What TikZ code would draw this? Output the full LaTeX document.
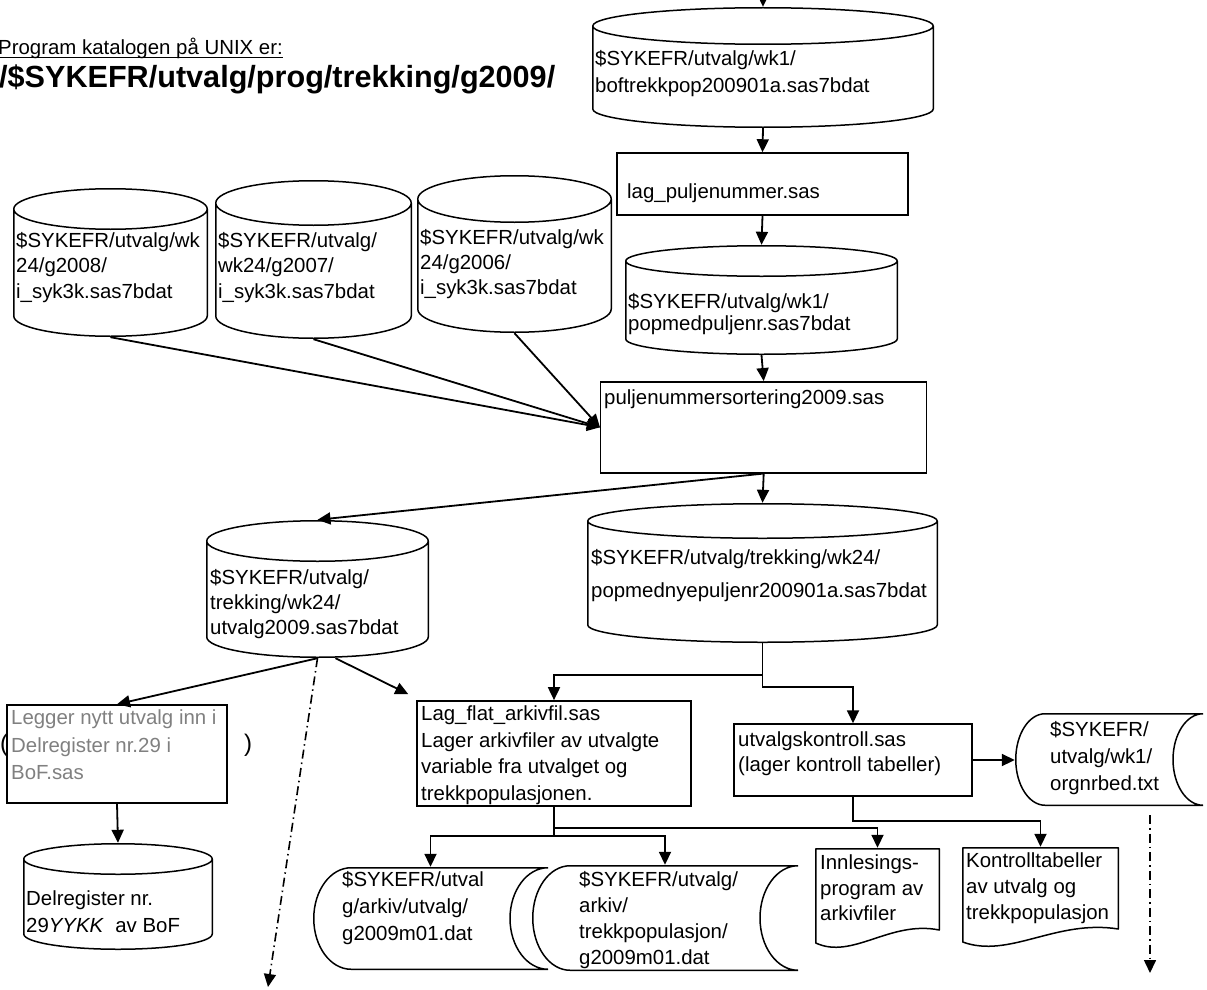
\documentclass[tikz,border=0pt]{standalone}
\usepackage{fontspec}
\setmainfont{Liberation Sans}
\usetikzlibrary{arrows.meta,calc,positioning}

\tikzset{
  shapeline/.style={line width=1.5pt, line join=round},
  arr/.style={-{Triangle[length=13pt,width=12pt]}, line width=1.8pt},
  dashdot/.style={arr, line width=1.6pt, dash pattern=on 9pt off 4pt on 1.5pt off 4pt},
  txt/.style={align=left, anchor=north west, inner sep=0pt,
    font=\fontsize{20.4}{#1}\selectfont, execute at begin node=\strut},
  procbox/.style={draw, line width=1.5pt, fill=white, inner sep=0pt},
  % database drum, #1 = half height of the lid
  dbcyl/.style={rectangle, inner sep=0pt, fill=white, path picture={
      \draw[shapeline] let \p1=(path picture bounding box.north west),
          \p2=(path picture bounding box.south east),
          \n1={(\x2-\x1)/2-0.75pt}, \n2={#1} in
        ({\x1+0.75pt},{\y1-\n2}) arc[start angle=180, delta angle=-360, x radius=\n1, y radius={\n2-0.75pt}]
        -- ({\x1+0.75pt},{\y2+\n2}) arc[start angle=180, end angle=360, x radius=\n1, y radius={\n2-0.75pt}]
        -- ({\x2-0.75pt},{\y1-\n2});}},
  % stored data, #1 = bulge of the sides
  filestore/.style={rectangle, inner sep=0pt, fill=white, fill opacity=0, path picture={
      \draw[shapeline] let \p1=(path picture bounding box.north west),
          \p2=(path picture bounding box.south east),
          \n1={#1}, \n2={(\y1-\y2)/2-0.75pt} in
        ({\x1+\n1},{\y1-0.75pt}) -- ({\x2},{\y1-0.75pt})
        arc[start angle=90, end angle=270, x radius=\n1, y radius=\n2]
        -- ({\x1+\n1},{\y2+0.75pt})
        arc[start angle=270, end angle=90, x radius={\n1-0.75pt}, y radius=\n2] -- cycle;}},
  % printed document
  docshape/.style={rectangle, inner sep=0pt, fill=white, path picture={
      \draw[shapeline] let \p1=(path picture bounding box.north west),
          \p2=(path picture bounding box.south east),
          \n1={\x2-\x1} in
        ({\x1+0.75pt},{\y1-0.75pt}) -- ({\x2-0.75pt},{\y1-0.75pt})
        -- ({\x2-0.75pt},{\y2+20pt})
        .. controls ({\x1+0.6*\n1},{\y2+30pt}) and ({\x1+0.3*\n1},{\y2-10pt}) ..
        ({\x1+0.75pt},{\y2+7pt}) -- cycle;}},
}

\begin{document}
\begin{tikzpicture}[x=1pt,y=-1pt]
\useasboundingbox (0,0) rectangle (1207,990);

% heading
\node[anchor=base west, inner sep=0pt, font=\fontsize{20.4}{24}\selectfont] (progcap) at (-2,55) {Program katalogen på UNIX er:};
\draw[line width=1.2pt] ([yshift=-2.5pt]progcap.base west) -- ([yshift=-2.5pt]progcap.base east);
\node[anchor=base west, inner sep=0pt, font=\fontsize{30.6}{36}\selectfont\bfseries] (progdir) at (-1,87) {/\$SYKEFR/utvalg/prog/trekking/g2009/};

% main chain
\node[dbcyl=19pt, minimum width=342, minimum height=121] (bofpop) at (763,67.5) {};
\node[txt=27] (bofpop-t) at (595,50) {\$SYKEFR/utvalg/wk1/\\boftrekkpop200901a.sas7bdat};
\node[procbox, minimum width=291, minimum height=62] (lagnr) at (762.5,184) {};
\node[txt=26] (lagnr-t) at (627,180) {lag\_puljenummer.sas};
\node[dbcyl=16pt, minimum width=273, minimum height=110] (popnr) at (761.5,300) {};
\node[txt=22] (popnr-t) at (628,293) {\$SYKEFR/utvalg/wk1/\\popmedpuljenr.sas7bdat};
\node[procbox, minimum width=326, minimum height=91] (sortering) at (763.7,427.3) {};
\node[txt=26] (sortering-t) at (604,386) {puljenummersortering2009.sas};
\node[dbcyl=18pt, minimum width=351, minimum height=140] (nypop) at (762.5,573) {};
\node[txt=33] (nypop-t) at (591,549) {\$SYKEFR/utvalg/trekking/wk24/\\popmednyepuljenr200901a.sas7bdat};

% earlier years
\node[dbcyl=21pt, minimum width=195, minimum height=149] (g2008) at (110.5,262.5) {};
\node[txt=25.5] (g2008-t) at (16,232) {\$SYKEFR/utvalg/wk\\24/g2008/\\i\_syk3k.sas7bdat};
\node[dbcyl=23pt, minimum width=197, minimum height=159] (g2007) at (313.5,259.5) {};
\node[txt=25.5] (g2007-t) at (218,232) {\$SYKEFR/utvalg/\\wk24/g2007/\\i\_syk3k.sas7bdat};
\node[dbcyl=24pt, minimum width=195, minimum height=158] (g2006) at (514.5,254) {};
\node[txt=25] (g2006-t) at (420,229.5) {\$SYKEFR/utvalg/wk\\24/g2006/\\i\_syk3k.sas7bdat};

% selection
\node[dbcyl=21pt, minimum width=223, minimum height=138] (utvalg) at (317.5,589) {};
\node[txt=25] (utvalg-t) at (210,569.5) {\$SYKEFR/utvalg/\\trekking/wk24/\\utvalg2009.sas7bdat};
\node[procbox, minimum width=220, minimum height=98] (legger) at (117,754) {};
\node[txt=27.5, text=black!50] (legger-t) at (11,710) {Legger nytt utvalg inn i\\Delregister nr.29 i\\BoF.sas};
\node[anchor=west, inner sep=0pt, font=\fontsize{24}{28}\selectfont] (lparen) at (0,745) {(};
\node[inner sep=0pt, font=\fontsize{24}{28}\selectfont] (rparen) at (248,745) {)};
\node[dbcyl=16pt, minimum width=190, minimum height=107] (delreg) at (118,896.5) {};
\node[txt=27] (delreg-t) at (26,891) {Delregister nr.\\29\textit{YYKK}~ av BoF};

% archive and control
\node[procbox, minimum width=274, minimum height=105] (lagflat) at (554,753.4) {};
\node[txt=26.7] (lagflat-t) at (421,705.5) {Lag\_flat\_arkivfil.sas\\Lager arkivfiler av utvalgte\\variable fra utvalget og\\trekkpopulasjonen.};
\node[procbox, minimum width=238, minimum height=72] (kontroll) at (853,760) {};
\node[txt=25] (kontroll-t) at (738,731.5) {utvalgskontroll.sas\\(lager kontroll tabeller)};
\node[filestore=30pt, minimum width=188, minimum height=93] (orgnr) at (1109,759.5) {};
\node[txt=27] (orgnr-t) at (1050,721) {\$SYKEFR/\\utvalg/wk1/\\orgnrbed.txt};
\node[filestore=38pt, minimum width=235, minimum height=103] (arkutv) at (430.5,918.5) {};
\node[txt=27] (arkutv-t) at (342,871) {\$SYKEFR/utval\\g/arkiv/utvalg/\\g2009m01.dat};
\node[filestore=38pt, minimum width=266, minimum height=106] (arktrekk) at (665,918) {};
\node[txt=26] (arktrekk-t) at (579,871) {\$SYKEFR/utvalg/\\arkiv/\\trekkpopulasjon/\\g2009m01.dat};
\node[docshape, minimum width=125, minimum height=102] (innles) at (877.5,899) {};
\node[txt=25.5] (innles-t) at (820,855) {Innlesings-\\program av\\arkivfiler};
\node[docshape, minimum width=157, minimum height=102] (kontab) at (1040.5,898) {};
\node[txt=26] (kontab-t) at (966,853) {Kontrolltabeller\\av utvalg og\\trekkpopulasjon};

% loose ends
\coordinate (inflow) at (763,-30);
\coordinate (utvend) at (268,987);
\coordinate (orgout) at (1150,815);
\coordinate (orgend) at (1150,973);

% connectors
\draw[arr] (inflow) -- (bofpop.north);
\draw[arr] (bofpop.south) -- (lagnr.north);
\draw[arr] (lagnr.south) -- (popnr.north);
\draw[arr] (popnr.south) -- (sortering.north);
\draw[arr] (g2008.south) -- (sortering.west);
\draw[arr] (g2007.south) -- (sortering.west);
\draw[arr] (g2006.south) -- (sortering.west);
\draw[arr] (sortering.south) -- (nypop.north);
\draw[arr] (sortering.south) -- (utvalg.north);
\draw[arr] (nypop.south) -- ++(0,32) -| (lagflat.north);
\draw[arr] (nypop.south) -- ++(0,44) -| (kontroll.north);
\draw[arr] (kontroll.east) -- (kontroll.east -| orgnr.west);
\draw[arr] (kontroll.south) -- ++(0,24) -| (kontab.north);
\draw[arr] (lagflat.south) -- ++(0,21) -| (innles.north);
\draw[arr] (lagflat.south) -- ++(0,29) -| (arkutv.north);
\draw[arr] (lagflat.south) -- ++(0,29) -| (arktrekk.north);
\draw[arr] (utvalg.south) -- (legger.north);
\draw[arr] ([xshift=18pt]utvalg.south) -- ([shift={(-8,-6)}]lagflat.north west);
\draw[arr] (legger.south) -- (delreg.north);
\draw[dashdot] (utvalg.south) -- (utvend);
\draw[dashdot] (orgout) -- (orgend);
\end{tikzpicture}
\end{document}
